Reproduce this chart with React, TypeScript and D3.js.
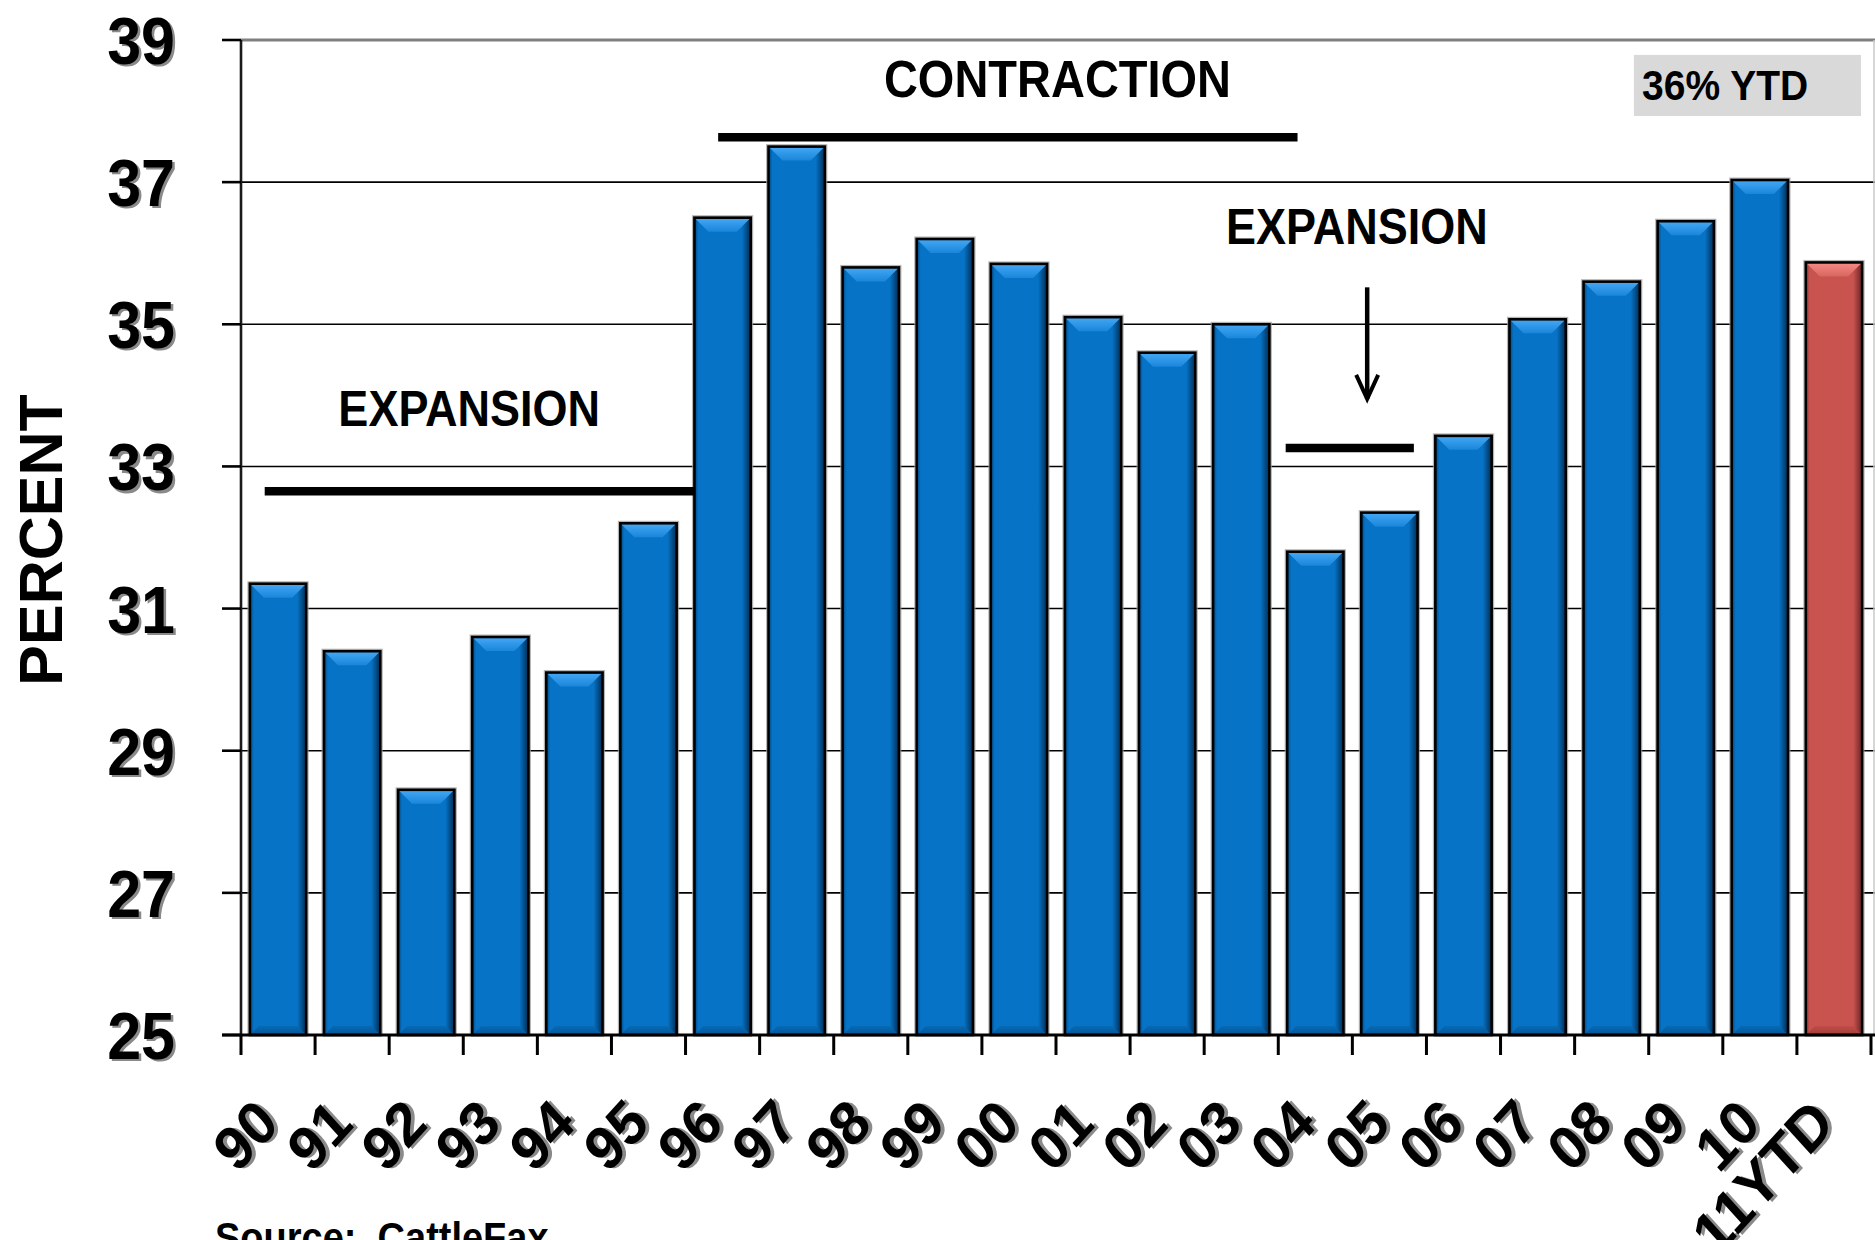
import React from 'react';
import * as d3 from 'd3';

// Share of the herd (percent) by year, 1990 through 2011 year-to-date
const years = ['90', '91', '92', '93', '94', '95', '96', '97', '98', '99', '00', '01', '02', '03', '04', '05', '06', '07', '08', '09', '10', '11YTD'];
const percents = [31.35, 30.4, 28.45, 30.6, 30.1, 32.2, 36.5, 37.5, 35.8, 36.2, 35.85, 35.1, 34.6, 35.0, 31.8, 32.35, 33.43, 35.07, 35.6, 36.45, 37.03, 35.87];
const yTicks = [25, 27, 29, 31, 33, 35, 37, 39];
const highlightedYears = ['11YTD'];

// Cycle phase notes
const phaseTexts = ['CONTRACTION', 'EXPANSION', 'EXPANSION'];
const ytdNote = '36% YTD';
const sourceNote = 'Source:  CattleFax';

const W = 1875;
const H = 1240;
const FONT = "'Liberation Sans', Arial, Helvetica, sans-serif";
const SY = 1.1; // vertical stretch of captions

const plotLeft = 241;
const plotRight = 1871;
const plotTop = 40;
const plotBottom = 1035;

function Caption(props: {
  x: number; y: number; size: number; anchor?: string; text: string; shadow?: boolean; weight?: string;
}) {
  const { x, y, size, anchor = 'start', text, shadow, weight = 'bold' } = props;
  const common = {
    fontFamily: FONT,
    fontSize: size,
    fontWeight: weight as any,
    textAnchor: anchor as any,
    style: { whiteSpace: 'pre' as const },
  };
  return (
    <g transform={`translate(${x},${y}) scale(1,${SY})`}>
      {shadow && (
        <text x={2.5} y={2} fill="#8a8a8a" {...common}>{text}</text>
      )}
      <text x={0} y={0} fill="#000" {...common}>{text}</text>
    </g>
  );
}

export default function App() {
  const x = d3.scaleBand<string>()
    .domain(years)
    .range([plotLeft, plotRight])
    .paddingInner(0.24)
    .paddingOuter(0.12);
  const step = x.step();
  const slot = (i: number) => plotLeft + i * step;

  const y = d3.scaleLinear().domain([25, 39]).range([plotBottom, plotTop]);

  const bw = x.bandwidth();

  // annotation layout in chart units (category slot, value)
  const phaseAnchors = [
    { at: 11.02, level: 38.2, size: 47 },
    { at: 3.08, level: 33.57, size: 45 },
    { at: 15.06, level: 36.13, size: 45 },
  ];
  const phaseBars = [
    { from: 6.44, to: 14.26, level: 37.63 },
    { from: 0.32, to: 6.13, level: 32.65 },
    { from: 14.1, to: 15.83, level: 33.26 },
  ];
  const arrow = { at: 15.2, from: 35.52, to: 33.95 };
  const box = { from: 18.8, to: 21.865, top: 38.79, bottom: 37.93, textAt: 18.91, textLevel: 38.16 };

  const ax = slot(arrow.at);
  const ay0 = y(arrow.from);
  const ay1 = y(arrow.to);

  return (
    <svg
      width={W}
      height={H}
      viewBox={`0 0 ${W} ${H}`}
      style={{ position: 'absolute', left: 0, top: 0, background: '#fff' }}
    >
      <defs>
        <linearGradient id="blueBody" x1="0" x2="1" y1="0" y2="0">
          <stop offset="0" stopColor="#03457c" />
          <stop offset="0.07" stopColor="#0673c6" />
          <stop offset="0.84" stopColor="#0673c6" />
          <stop offset="1" stopColor="#022c52" />
        </linearGradient>
        <linearGradient id="blueTop" x1="0" x2="0" y1="0" y2="1">
          <stop offset="0" stopColor="#45a8f5" />
          <stop offset="1" stopColor="#1a86da" />
        </linearGradient>
        <linearGradient id="blueBottom" x1="0" x2="0" y1="0" y2="1">
          <stop offset="0" stopColor="#066ab6" />
          <stop offset="1" stopColor="#045694" />
        </linearGradient>
        <linearGradient id="redBody" x1="0" x2="1" y1="0" y2="0">
          <stop offset="0" stopColor="#8e3432" />
          <stop offset="0.07" stopColor="#c9534f" />
          <stop offset="0.84" stopColor="#c9534f" />
          <stop offset="1" stopColor="#6a2422" />
        </linearGradient>
        <linearGradient id="redTop" x1="0" x2="0" y1="0" y2="1">
          <stop offset="0" stopColor="#f58c86" />
          <stop offset="1" stopColor="#d86560" />
        </linearGradient>
        <linearGradient id="redBottom" x1="0" x2="0" y1="0" y2="1">
          <stop offset="0" stopColor="#c04c48" />
          <stop offset="1" stopColor="#a33e3b" />
        </linearGradient>
      </defs>

      <rect x={0} y={0} width={W} height={H} fill="#fff" />

      {/* gridlines */}
      {yTicks.filter(t => t !== 25 && t !== 39).map(t => (
        <line key={`g${t}`} x1={plotLeft} x2={W} y1={y(t)} y2={y(t)} stroke="#000" strokeWidth={1.6} />
      ))}
      {/* top border of the plot */}
      <line x1={plotLeft} x2={W} y1={y(39)} y2={y(39)} stroke="#808080" strokeWidth={3} />
      {/* right border of the plot */}
      <line x1={1874} x2={1874} y1={y(39)} y2={plotBottom} stroke="#c8c8c8" strokeWidth={1.5} />

      {/* value axis */}
      <line x1={plotLeft} x2={plotLeft} y1={y(39)} y2={plotBottom} stroke="#1a1a1a" strokeWidth={2.6} />
      {yTicks.map(t => (
        <line key={`yt${t}`} x1={222} x2={plotLeft} y1={y(t)} y2={y(t)} stroke="#000" strokeWidth={2.6} />
      ))}
      {yTicks.map(t => (
        <Caption key={`yl${t}`} x={175} y={y(t) + 24} size={61} anchor="end" text={String(t)} shadow />
      ))}

      {/* bars */}
      {years.map((yr, i) => {
        const bx = x(yr) as number;
        const top = y(percents[i]);
        const h = plotBottom - top;
        const red = highlightedYears.includes(yr);
        const key = red ? 'red' : 'blue';
        const bev = Math.min(14, h / 2);
        const bbev = Math.min(9, h / 3);
        return (
          <g key={yr}>
            <rect x={bx - 2.5} y={top - 2.5} width={bw + 5} height={h + 2.5} fill="#9c9c9c" opacity={0.75} />
            <rect x={bx} y={top} width={bw} height={h} fill={`url(#${key}Body)`} />
            <polygon
              points={`${bx},${top} ${bx + bw},${top} ${bx + bw - bev},${top + bev} ${bx + bev},${top + bev}`}
              fill={`url(#${key}Top)`}
            />
            <polygon
              points={`${bx + bbev},${plotBottom - bbev} ${bx + bw - bbev},${plotBottom - bbev} ${bx + bw},${plotBottom} ${bx},${plotBottom}`}
              fill={`url(#${key}Bottom)`}
            />
            <rect x={bx} y={top} width={bw} height={h} fill="none" stroke="#000" strokeWidth={2.6} />
          </g>
        );
      })}

      {/* category axis */}
      <line x1={222} x2={W} y1={plotBottom} y2={plotBottom} stroke="#000" strokeWidth={3} />
      {d3.range(years.length + 1).map(i => (
        <line key={`xt${i}`} x1={slot(i)} x2={slot(i)} y1={plotBottom} y2={plotBottom + 20} stroke="#000" strokeWidth={3} />
      ))}
      {years.map(yr => {
        const cx = (x(yr) as number) + bw / 2 + 3;
        const cy = 1126;
        const common = {
          fontFamily: FONT,
          fontSize: 56,
          fontWeight: 'bold' as const,
          textAnchor: 'end' as const,
        };
        return (
          <g key={`xl${yr}`} transform={`translate(${cx},${cy}) scale(1,${SY}) rotate(-45)`}>
            <text x={2.5} y={3} fill="#8a8a8a" {...common}>{yr}</text>
            <text x={0} y={0} fill="#000" {...common}>{yr}</text>
          </g>
        );
      })}

      {/* axis title */}
      <text
        transform={`translate(62,540) rotate(-90)`}
        fontFamily={FONT}
        fontSize={61}
        fontWeight="bold"
        textAnchor="middle"
        fill="#000"
      >
        PERCENT
      </text>

      {/* cycle phases */}
      {phaseBars.map((b, i) => (
        <line key={`pb${i}`} x1={slot(b.from)} x2={slot(b.to)} y1={y(b.level)} y2={y(b.level)} stroke="#000" strokeWidth={8.5} />
      ))}
      {phaseTexts.map((t, i) => (
        <Caption
          key={`pt${i}`}
          x={slot(phaseAnchors[i].at)}
          y={y(phaseAnchors[i].level)}
          size={phaseAnchors[i].size}
          anchor="middle"
          text={t}
        />
      ))}

      {/* arrow pointing at the recent expansion */}
      <line x1={ax} x2={ax} y1={ay0} y2={ay1} stroke="#000" strokeWidth={4.5} />
      <polyline
        points={`${ax - 11},${ay1 - 24} ${ax},${ay1} ${ax + 11},${ay1 - 24}`}
        fill="none"
        stroke="#000"
        strokeWidth={4}
        strokeLinejoin="miter"
      />

      {/* year-to-date note */}
      <rect
        x={slot(box.from)}
        y={y(box.top)}
        width={slot(box.to) - slot(box.from)}
        height={y(box.bottom) - y(box.top)}
        fill="#d9d9d9"
      />
      <Caption x={slot(box.textAt)} y={y(box.textLevel)} size={39} text={ytdNote} />

      {/* source */}
      <Caption x={215} y={1252} size={38} text={sourceNote} />
    </svg>
  );
}
